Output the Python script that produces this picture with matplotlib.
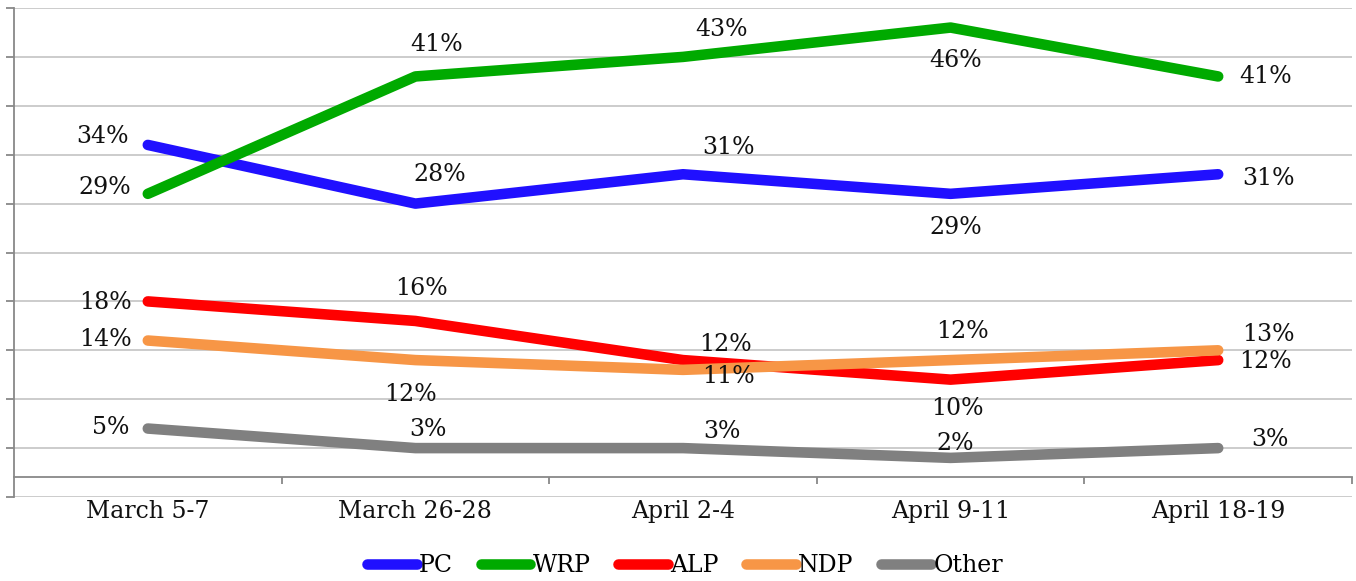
import matplotlib
matplotlib.use("Agg")
import matplotlib.pyplot as plt
from matplotlib.ticker import FixedLocator, NullFormatter, FixedFormatter

# ---- data ----
categories = ["March 5-7", "March 26-28", "April 2-4", "April 9-11", "April 18-19"]
series_names = ["PC", "WRP", "ALP", "NDP", "Other"]
pc = [34, 28, 31, 29, 31]
wrp = [29, 41, 43, 46, 41]
alp = [18, 16, 12, 10, 12]
ndp = [14, 12, 11, 12, 13]
other = [5, 3, 3, 2, 3]
series_values = [pc, wrp, alp, ndp, other]

# ---- style ----
colors = ["#2010FF", "#00AA00", "#FF0000", "#F79646", "#808080"]
# label offsets in pixels (dx, dy) relative to each point
label_offsets = [
    [(-45, 8), (24, 29), (45, 27), (5, -34), (50, -4)],
    [(-43, 6), (21, 32), (39, 27), (5, -33), (47, 0)],
    [(-42, -1), (6, 32), (42, 16), (7, -29), (47, -1)],
    [(-42, 1), (-5, -34), (45, -7), (12, 29), (50, 16)],
    [(-37, 1), (13, 19), (39, 17), (5, 14), (52, 9)],
]

plt.rcParams['font.family'] = ['DejaVu Serif']
FS = 17

W, H = 1356, 581
fig = plt.figure(figsize=(W / 100, H / 100), dpi=100)
ax = fig.add_axes([14 / W, (H - 497) / H, (1352 - 14) / W, (497 - 8) / H])

x = list(range(len(categories)))
for name, vals, col, offs in zip(series_names, series_values, colors, label_offsets):
    ax.plot(x, vals, color=col, lw=7.6, solid_capstyle='round',
            solid_joinstyle='round', label=name, zorder=3)
    for xi, v, (dx, dy) in zip(x, vals, offs):
        ax.annotate(f"{v}%", (xi, v), xytext=(dx, dy), textcoords='offset pixels',
                    ha='center', va='center', fontsize=FS, color='#111111', zorder=4)

ax.set_xlim(-0.5, len(categories) - 0.5)
ax.set_ylim(-2, 48)

# y axis: ticks and gridlines every 5, no labels
yt = list(range(-2, 49, 5))
ax.yaxis.set_major_locator(FixedLocator(yt))
ax.yaxis.set_major_formatter(NullFormatter())
ax.grid(axis='y', color='#C8C8C8', lw=1.3, zorder=0)
ax.tick_params(axis='y', direction='out', length=6, width=1.3, color='#888888')

# x axis at zero, ticks between categories, labels at categories
ax.spines['bottom'].set_position(('data', 0))
ax.spines['bottom'].set_color('#888888')
ax.spines['bottom'].set_linewidth(1.3)
ax.spines['left'].set_color('#888888')
ax.spines['left'].set_linewidth(1.3)
ax.spines['top'].set_visible(False)
ax.spines['right'].set_visible(False)

ax.xaxis.set_major_locator(FixedLocator([i + 0.5 for i in x]))
ax.xaxis.set_major_formatter(NullFormatter())
ax.xaxis.set_minor_locator(FixedLocator(x))
ax.xaxis.set_minor_formatter(FixedFormatter(categories))
ax.tick_params(axis='x', which='major', direction='out', length=5, width=1.3, color='#888888')
ax.tick_params(axis='x', which='minor', length=0, pad=16, labelsize=FS, labelcolor='#111111')

fig.legend(loc='center', bbox_to_anchor=(685 / W, 1 - 566 / H), ncol=5, frameon=False,
           fontsize=FS, handlelength=2.1, handletextpad=0.1, columnspacing=1.17)

fig.savefig("out.png", dpi=100)
